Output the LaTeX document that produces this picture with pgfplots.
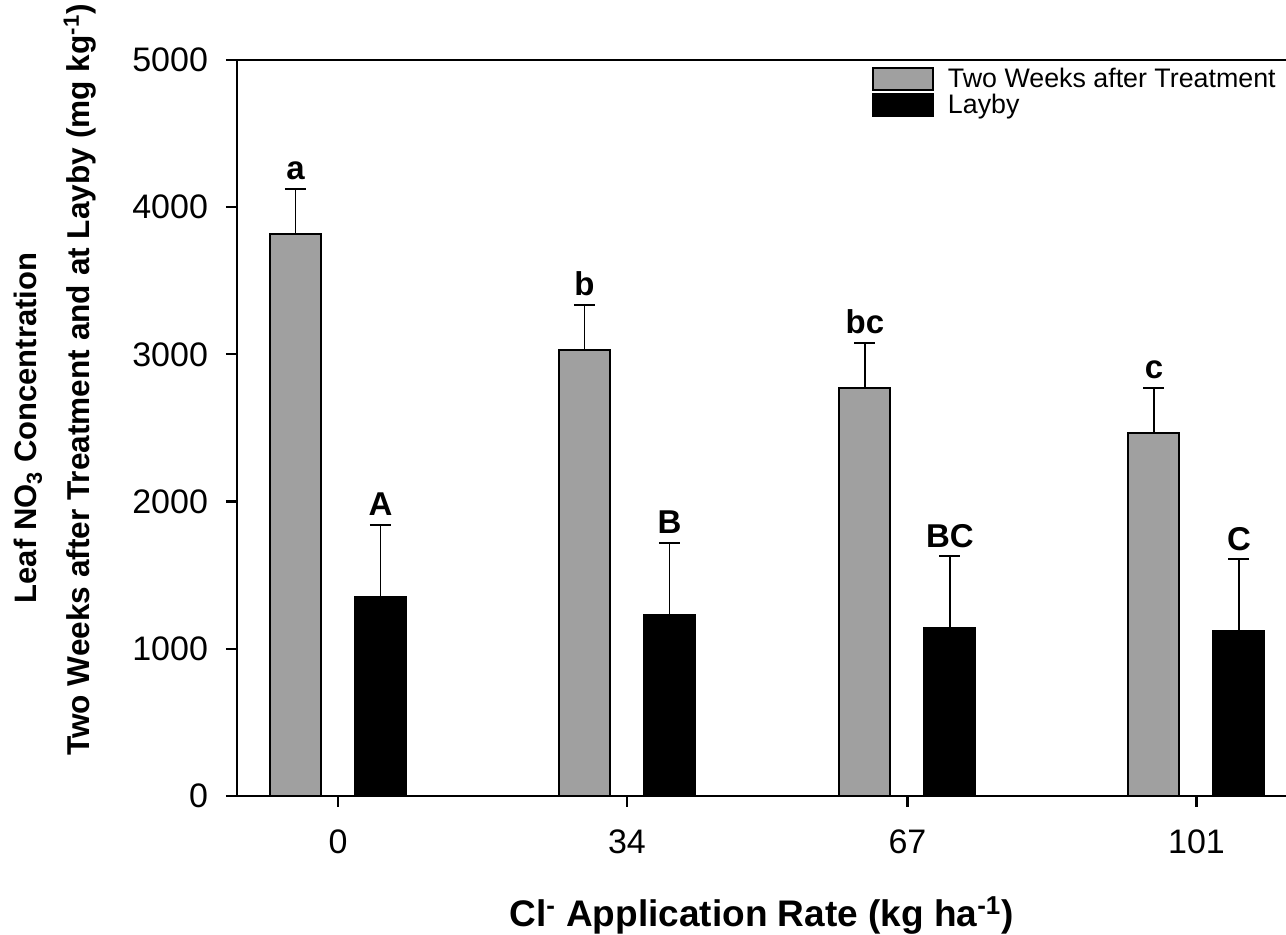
\documentclass[border=0pt]{standalone}
\usepackage{fontspec}
\setmainfont{Liberation Sans}
\usepackage{pgfplots}
\usepackage{pgfplotstable}
\pgfplotsset{compat=1.18}
\definecolor{bargray}{RGB}{160,160,160}

\pgfplotstableread{
x y err
0 3818 306
34 3030 306
67 2772 306
101 2466 306
}\twoweeks
\pgfplotstableread{
x y err
0 1352 489
34 1230 489
67 1141 489
101 1121 489
}\layby

\begin{document}
\begin{tikzpicture}
\begin{axis}[
  at={(0pt,0pt)}, anchor=south west,
  scale only axis, width=524.5pt, height=368pt,
  xmin=-11.88, xmax=111.53, ymin=0, ymax=5000,
  clip mode=individual,
  axis x line*=bottom, axis y line*=left,
  axis line style={line width=1.2pt, -},
  xtick={0,34,67,101}, ytick={0,1000,2000,3000,4000,5000},
  tick align=outside, major tick length=5.5pt,
  tick style={line width=1.1pt, black},
  scaled y ticks=false,
  /pgf/number format/assume math mode=true,
  /pgf/number format/1000 sep={},
  tick label style={font=\fontsize{17}{20}\selectfont},
  yticklabel style={xshift=-5.5pt},
  xticklabel style={yshift=-7.9pt},
  xlabel={Cl\textsuperscript{-} Application Rate (kg ha\textsuperscript{-1})},
  ylabel={Leaf NO\textsubscript{3} Concentration},
  every axis x label/.style={at={(rel axis cs:0.5,0)}, anchor=base, yshift=-65.5pt, font=\bfseries\fontsize{18.5}{22}\selectfont},
  every axis y label/.style={at={(rel axis cs:-0.1992,0.5)}, anchor=center, rotate=90, font=\bfseries\fontsize{15.5}{18}\selectfont},
  legend style={at={(rel axis cs:0.6053,0.9905)}, anchor=north west, draw=none, fill=none,
    inner sep=0pt, outer sep=0pt, row sep=1pt, column sep=3pt,
    font=\fontsize{13.4}{15}\selectfont,
    nodes={inner ysep=0pt, inner xsep=4pt}},
  legend cell align=left,
]
\addplot[ybar, bar width=6, bar shift=0, fill=bargray, draw=black, line width=1pt,
  legend image code/.code={\draw[fill=bargray,draw=black,line width=1pt] (0pt,-5.5pt) rectangle (30pt,5.5pt);},
  error bars/.cd, y dir=plus, y explicit,
  error bar style={line width=0.8pt, black},
  error mark options={rotate=90, mark size=5.25pt, line width=0.8pt, black}]
  table[x expr=\thisrow{x}-5, y=y, y error=err]{\twoweeks};
\addlegendentry{Two Weeks after Treatment}
\addplot[ybar, bar width=6, bar shift=0, fill=black, draw=black, line width=1pt,
  legend image code/.code={\draw[fill=black,draw=black,line width=1pt] (0pt,-5.5pt) rectangle (30pt,5.5pt);},
  error bars/.cd, y dir=plus, y explicit,
  error bar style={line width=0.8pt, black},
  error mark options={rotate=90, mark size=5.25pt, line width=0.8pt, black}]
  table[x expr=\thisrow{x}+5, y=y, y error=err]{\layby};
\addlegendentry{Layby}
\draw[line width=1.2pt] (rel axis cs:0,1) -- (rel axis cs:1,1);
\node[rotate=90, anchor=center, font=\bfseries\fontsize{15.8}{18}\selectfont]
  at (rel axis cs:-0.1497,0.5652) {Two Weeks after Treatment and at Layby (mg kg\textsuperscript{-1})};
\begin{scope}[every node/.style={font=\bfseries\fontsize{16.5}{18}\selectfont, anchor=base, yshift=4.5pt, inner sep=0pt}]
\node at (axis cs:-5,4124) {a};
\node at (axis cs:29,3336) {b};
\node at (axis cs:62,3078) {bc};
\node at (axis cs:96,2772) {c};
\node at (axis cs:5,1841) {A};
\node at (axis cs:39,1719) {B};
\node at (axis cs:72,1630) {BC};
\node at (axis cs:106,1610) {C};
\end{scope}
\end{axis}
\pgfresetboundingbox
\path[use as bounding box] (-118.5pt,-69.5pt) rectangle (524.5pt,398pt);
\end{tikzpicture}
\end{document}
